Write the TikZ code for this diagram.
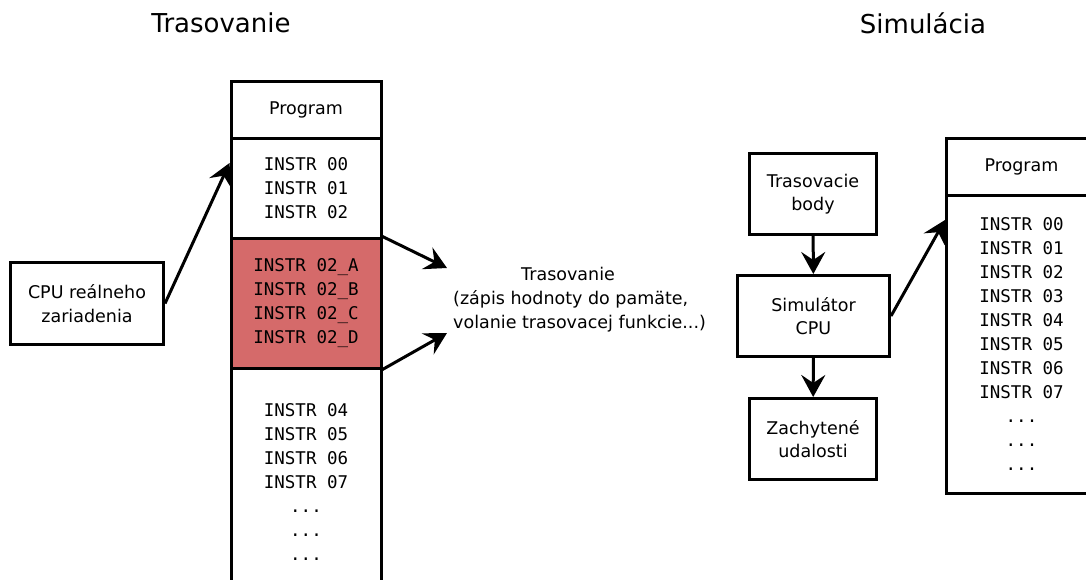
\documentclass[tikz,border=0pt]{standalone}
\usepackage{fontspec}
\setmainfont{DejaVu Sans}
\setsansfont{DejaVu Sans}
\setmonofont{DejaVu Sans Mono}
\usetikzlibrary{arrows.meta}
\definecolor{hotred}{RGB}{213,106,106}
\begin{document}
\begin{tikzpicture}[x=1pt,y=-1pt,
  box/.style={draw,line width=3pt,inner sep=0pt,align=center,
    font=\fontsize{17.5}{23.5}\selectfont},
  code/.style={box,font=\ttfamily\fontsize{17.5}{24}\selectfont},
  plain/.style={inner sep=0pt,font=\fontsize{17.5}{24}\selectfont},
  title/.style={inner sep=0pt,font=\fontsize{26}{30}\selectfont},
  arr/.style={line width=3pt,-{Stealth[length=22pt,width=24pt,inset=8pt]}}]
\clip (0,0) rectangle (1086,579);

% headings
\node[title] (ttrace) at (221,23) {Trasovanie};
\node[title] (tsim) at (923,23) {Simulácia};

% program memory, instrumented
\node[box,minimum width=150pt,minimum height=57pt] (hdrL) at (306,109.5) {Program};
\node[code,minimum width=150pt,minimum height=100pt] (blk1) at (306,188)
  {INSTR 00\\INSTR 01\\INSTR 02};
\node[code,fill=hotred,minimum width=150pt,minimum height=130pt] (blk2) at (306,303)
  {INSTR 02\_A\\INSTR 02\_B\\INSTR 02\_C\\INSTR 02\_D};
\node[code,minimum width=150pt,minimum height=228pt] (blk3) at (306,482)
  {INSTR 04\\INSTR 05\\INSTR 06\\INSTR 07\\...\\...\\...};

% real CPU
\node[box,minimum width=153pt,minimum height=82pt] (cpu) at (87,303.5)
  {CPU reálneho\\zariadenia};
\draw[arr] (cpu.east) -- ([yshift=25pt]blk1.west);

% tracing note
\node[plain,anchor=west,align=left] (note) at (453,300)
  {\hspace*{68pt}Trasovanie\\(zápis hodnoty do pamäte,\\volanie trasovacej funkcie...)};
\coordinate (na) at (447,268);
\coordinate (nb) at (447,333);
\draw[arr] (blk2.north east) -- (na);
\draw[arr] (blk2.south east) -- (nb);

% simulation side
\node[box,minimum width=127pt,minimum height=81pt] (tb) at (813,194)
  {Trasovacie\\body};
\node[box,minimum width=152pt,minimum height=81pt] (sim) at (813.5,316)
  {Simulátor\\CPU};
\node[box,minimum width=127pt,minimum height=81pt] (ev) at (813,439)
  {Zachytené\\udalosti};
\draw[arr] (tb) -- (sim);
\draw[arr] (sim) -- (ev);

% program memory, simulated
\node[box,minimum width=150pt,minimum height=57pt] (hdrR) at (1021.5,166.5) {Program};
\node[code,minimum width=150pt,minimum height=298pt] (blkR) at (1021.5,344)
  {INSTR 00\\INSTR 01\\INSTR 02\\INSTR 03\\INSTR 04\\INSTR 05\\INSTR 06\\INSTR 07\\...\\...\\...};
\draw[arr] (sim.east) -- ([yshift=124pt]blkR.west);
\end{tikzpicture}
\end{document}
